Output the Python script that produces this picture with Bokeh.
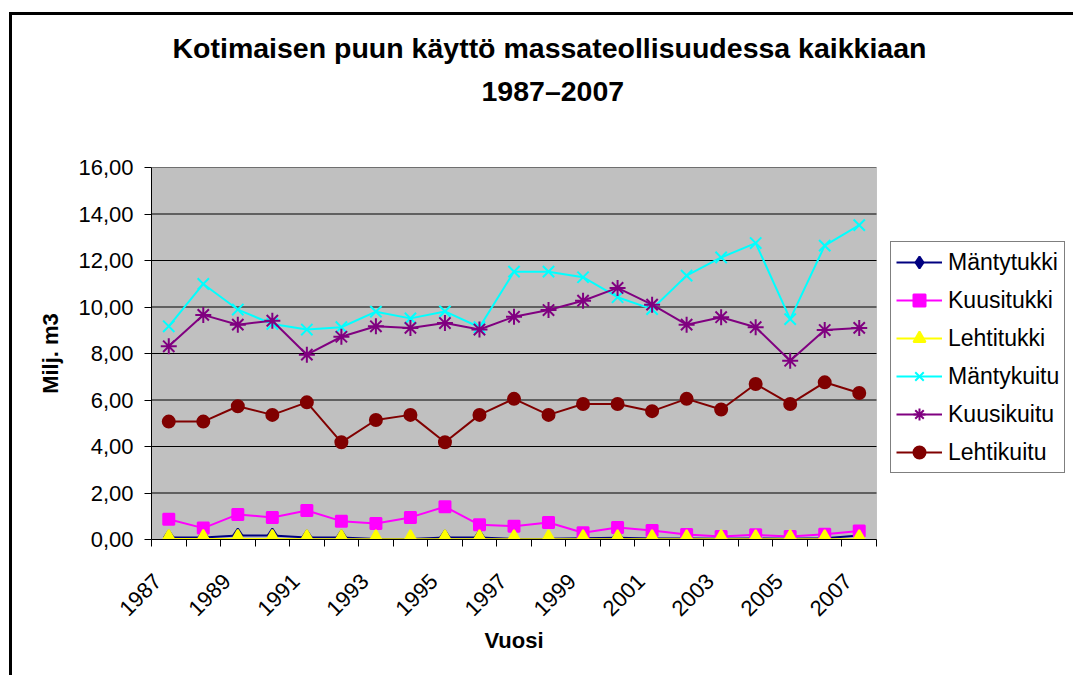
import math
from bokeh.plotting import figure
from bokeh.models import (Range1d, FixedTicker, CustomJSTickFormatter, Legend,
                          LegendItem, Title, InlineStyleSheet, BoxAnnotation)
from bokeh.embed import file_html
from bokeh.resources import INLINE

# ---------------- data ----------------
years = list(range(1987, 2008))
label_years = years[::2]
y_ticks = [0, 2, 4, 6, 8, 10, 12, 14, 16]

series_names = ["Mäntytukki", "Kuusitukki", "Lehtitukki", "Mäntykuitu", "Kuusikuitu", "Lehtikuitu"]

mantytukki = [0.09, 0.09, 0.17, 0.17, 0.09, 0.09, 0.02, 0.02, 0.09, 0.09, 0.02,
              0.03, 0.05, 0.07, 0.04, 0.04, 0.03, 0.04, 0.03, 0.05, 0.17]
kuusitukki = [0.87, 0.49, 1.08, 0.95, 1.25, 0.79, 0.69, 0.95, 1.41, 0.63, 0.57,
              0.73, 0.29, 0.52, 0.39, 0.21, 0.13, 0.20, 0.13, 0.23, 0.37]
lehtitukki = [0.02, 0.02, 0.02, 0.02, 0.01, 0.01, 0.01, 0.01, 0.01, 0.01, 0.01,
              0.01, 0.01, 0.01, 0.01, 0.01, 0.01, 0.01, 0.01, 0.01, 0.01]
mantykuitu = [9.17, 10.99, 9.89, 9.27, 9.03, 9.13, 9.80, 9.51, 9.81, 9.13, 11.52,
              11.52, 11.28, 10.42, 9.91, 11.35, 12.13, 12.75, 9.48, 12.64, 13.52]
kuusikuitu = [8.31, 9.66, 9.24, 9.41, 7.95, 8.72, 9.17, 9.10, 9.31, 9.03, 9.58,
              9.87, 10.27, 10.82, 10.10, 9.24, 9.56, 9.13, 7.69, 9.01, 9.10]
lehtikuitu = [5.07, 5.07, 5.73, 5.36, 5.90, 4.18, 5.14, 5.36, 4.18, 5.36, 6.05,
              5.36, 5.83, 5.83, 5.52, 6.05, 5.59, 6.69, 5.83, 6.76, 6.30]

series_values = [mantytukki, kuusitukki, lehtitukki, mantykuitu, kuusikuitu, lehtikuitu]
colors = ["#000080", "#FF00FF", "#FFFF00", "#00FFFF", "#800080", "#800000"]
markers = ["diamond", "square", "triangle", "x", "asterisk", "circle"]
marker_sizes = [14, 11, 16, 16, 16, 12]

FONT = "Liberation Sans"

# ---------------- layout constants (pixels) ----------------
W, H = 1073, 675
LEFT, TOP, BOTTOM = 151, 167, 136
PLOT_W = 725                      # width of the grey plot area
x_start = years[0] - 0.5
x_end = years[-1] + 0.5
px_per_year = PLOT_W / (x_end - x_start)
frame_w = W - LEFT                # frame continues right so the legend sits inside it
x_view_end = x_start + frame_w / px_per_year

p = figure(width=W, height=H, output_backend="svg", toolbar_location=None,
           x_range=Range1d(x_start, x_view_end), y_range=Range1d(y_ticks[0], y_ticks[-1]),
           min_border_left=LEFT, min_border_right=0, min_border_top=TOP, min_border_bottom=BOTTOM,
           background_fill_color="white", border_fill_color="white")
p.outline_line_color = None

# chart-area frame (left and top edges, like the spreadsheet chart border)
p.stylesheets = [InlineStyleSheet(css=(
    ":host::after { content: ''; position: absolute; left: 9px; top: 12px; right: 0; bottom: 0;"
    " border-left: 3px solid black; border-top: 3px solid black; pointer-events: none; }"))]

# grey plot area
p.add_layout(BoxAnnotation(left=x_start, right=x_end, bottom=y_ticks[0], top=y_ticks[-1],
                           fill_color="#C0C0C0", fill_alpha=1, line_color="#808080",
                           line_width=1, level="underlay"))

# titles (stacked outward from the frame)
spacer = Title(text=" ", text_font_size="1px", standoff=58)
t2 = Title(text="1987–2007", align="left", offset=330, text_font=FONT,
           text_font_size="28.5px", text_font_style="bold", text_color="black", standoff=0)
t1 = Title(text="Kotimaisen puun käyttö massateollisuudessa kaikkiaan", align="left", offset=21,
           text_font=FONT, text_font_size="28.5px", text_font_style="bold", text_color="black", standoff=18)
p.add_layout(spacer, "above")
p.add_layout(t2, "above")
p.add_layout(t1, "above")

# horizontal grid lines limited to the plot area
p.grid.visible = False
p.segment(x0=x_start, x1=x_end, y0=y_ticks, y1=y_ticks, line_color="black", line_width=1)

# y axis
p.yaxis.ticker = FixedTicker(ticks=y_ticks)
p.yaxis.formatter = CustomJSTickFormatter(code="return tick.toFixed(2).replace('.', ',');")
p.yaxis.axis_label = "Milj. m3"
p.yaxis.axis_label_text_font = FONT
p.yaxis.axis_label_text_font_size = "22px"
p.yaxis.axis_label_text_font_style = "bold"
p.yaxis.axis_label_text_color = "black"
p.yaxis.axis_label_standoff = 12
p.yaxis.major_label_text_font = FONT
p.yaxis.major_label_text_font_size = "22px"
p.yaxis.major_label_text_color = "black"
p.yaxis.major_label_standoff = 11
p.yaxis.major_tick_out = 7
p.yaxis.major_tick_in = 0
p.yaxis.minor_tick_line_color = None
p.yaxis.axis_line_color = "black"
p.yaxis.major_tick_line_color = "black"

# x axis: labels on every other year (Excel-style anchoring, slightly left of the
# category centre), tick marks on the category boundaries
label_shift = 0.32
minor_positions = [y - 0.5 for y in years] + [years[-1] + 0.5]
p.xaxis.bounds = (x_start, x_end)
p.xaxis.ticker = FixedTicker(ticks=[y - label_shift for y in label_years], minor_ticks=minor_positions)
p.xaxis.formatter = CustomJSTickFormatter(args=dict(shift=label_shift),
                                          code="return Math.round(tick + shift).toString();")
p.xaxis.major_label_orientation = math.pi / 4
p.xaxis.major_label_text_font = FONT
p.xaxis.major_label_text_font_size = "22px"
p.xaxis.major_label_text_color = "black"
p.xaxis.major_label_standoff = 31
p.xaxis.major_tick_out = 0
p.xaxis.major_tick_in = 0
p.xaxis.minor_tick_out = 7
p.xaxis.minor_tick_in = 0
p.xaxis.minor_tick_line_color = "black"
p.xaxis.axis_line_color = "black"

# x-axis title, centred under the grey plot area (placed below the axis panel)
x_title = Title(text="Vuosi", align="left", offset=333, text_font=FONT,
                text_font_size="22px", text_font_style="bold", text_color="black", standoff=0)
p.add_layout(x_title, "below")

# series
items = []
for name, vals, col, mk, sz in zip(series_names, series_values, colors, markers, marker_sizes):
    r_line = p.line(years, vals, line_color=col, line_width=2)
    r_pt = p.scatter(years, vals, marker=mk, size=sz, fill_color=col, line_color=col, line_width=2)
    items.append(LegendItem(label=name, renderers=[r_line, r_pt]))

legend = Legend(items=items, location=(890 - LEFT, 66), orientation="vertical",
                label_text_font=FONT, label_text_font_size="23px", label_text_color="black",
                glyph_width=46, glyph_height=30, label_height=30, spacing=8, padding=5,
                label_standoff=6, margin=0,
                border_line_color="black", border_line_width=1,
                background_fill_color="white", background_fill_alpha=1)
p.add_layout(legend, "center")

open("out.html", "w").write(file_html(p, INLINE))
